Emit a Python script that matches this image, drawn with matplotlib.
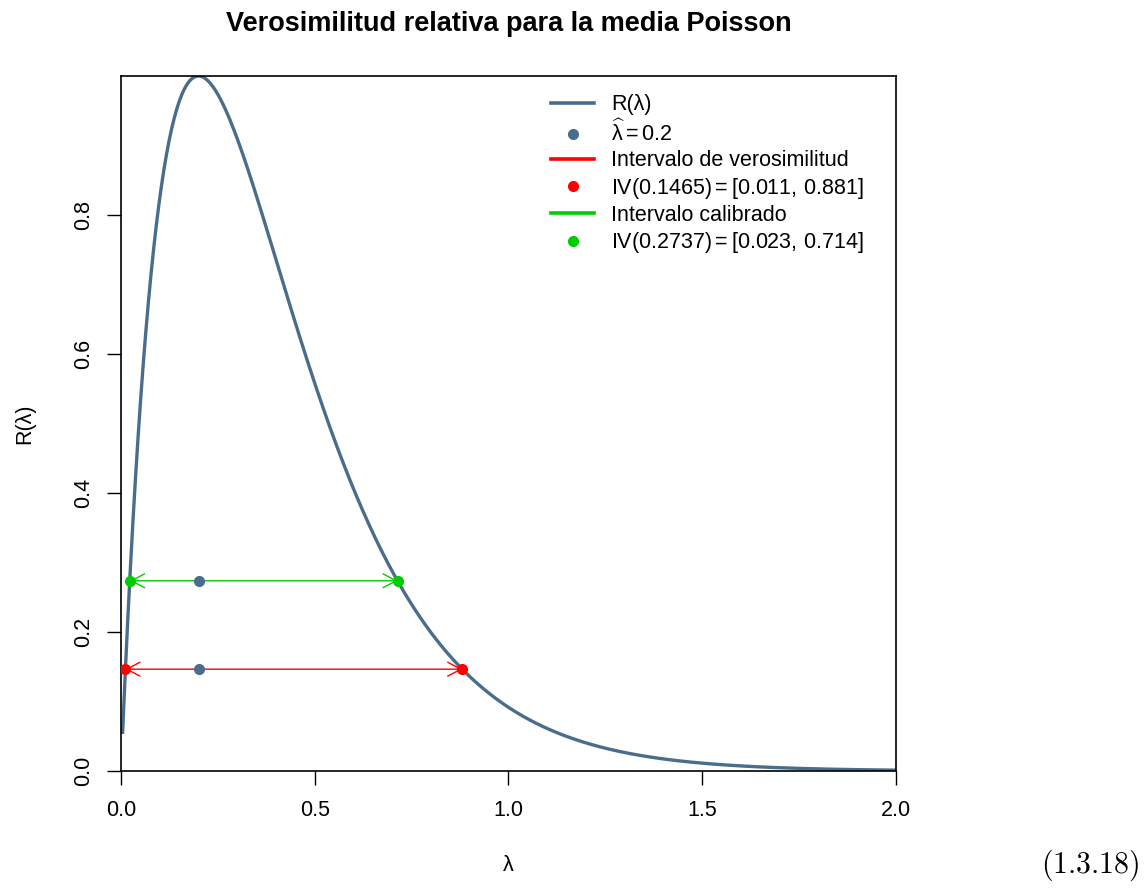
import numpy as np
import matplotlib.pyplot as plt
from matplotlib.lines import Line2D
from matplotlib.patches import FancyArrowPatch

plt.rcParams['font.family'] = ['Liberation Sans', 'DejaVu Sans']
plt.rcParams['mathtext.fontset'] = 'custom'
plt.rcParams['mathtext.rm'] = 'Liberation Sans'
plt.rcParams['mathtext.it'] = 'Liberation Sans:italic'
plt.rcParams['mathtext.bf'] = 'Liberation Sans:bold'

# Poisson sample summary
n = 5
lam_hat = 0.2

# cut levels and the resulting intervals
levels = [0.1465, 0.2737]
lower = [0.011, 0.023]
upper = [0.881, 0.714]
int_colors = ['#FF0000', '#00CD00']

curve_col = '#4A6D8C'

# relative likelihood R(lambda) = (lambda/lam_hat)^(n*lam_hat) * exp(-n*(lambda-lam_hat))
lam = np.linspace(0.004, 2, 600)
R = (lam / lam_hat) ** (n * lam_hat) * np.exp(-n * (lam - lam_hat))

fig = plt.figure(figsize=(11.44, 8.88), dpi=100)
ax = fig.add_axes([121/1144, 1 - 771/888, 775/1144, 695/888])

ax.plot(lam, R, color=curve_col, lw=2.4, solid_capstyle='butt')

for lev, lo, hi, col in zip(levels, lower, upper, int_colors):
    arr = FancyArrowPatch((lo, lev), (hi, lev),
                          arrowstyle='<->,head_length=0.95,head_width=0.5',
                          mutation_scale=10, color=col, lw=1.0,
                          shrinkA=0, shrinkB=0)
    ax.add_patch(arr)
    ax.plot([lo, hi], [lev, lev], 'o', color=col, ms=7, zorder=4)
    ax.plot([lam_hat], [lev], 'o', color=curve_col, ms=7, zorder=4)

ax.set_xlim(0, 2)
ax.set_ylim(0, 1)
ax.set_xticks([0, 0.5, 1.0, 1.5, 2.0])
ax.set_xticklabels(['0.0', '0.5', '1.0', '1.5', '2.0'])
ax.set_yticks([0, 0.2, 0.4, 0.6, 0.8])
ax.set_yticklabels(['0.0', '0.2', '0.4', '0.6', '0.8'], rotation=90, va='center')
ax.tick_params(axis='both', direction='out', length=10, width=1, labelsize=15.5)
ax.tick_params(axis='x', pad=11)
ax.tick_params(axis='y', pad=9)
for s in ax.spines.values():
    s.set_linewidth(1.2)

handles = [
    Line2D([], [], color=curve_col, lw=2.6),
    Line2D([], [], color=curve_col, marker='o', ls='none', ms=7),
    Line2D([], [], color='#FF0000', lw=2.6),
    Line2D([], [], color='#FF0000', marker='o', ls='none', ms=7),
    Line2D([], [], color='#00CD00', lw=2.6),
    Line2D([], [], color='#00CD00', marker='o', ls='none', ms=7),
]
labels = [
    'R(λ)',
    r'$\widehat{\mathrm{\lambda}} = 0.2$',
    'Intervalo de verosimilitud',
    r'IV$(%.4f) = [%.3f,\,%.3f]$' % (levels[0], lower[0], upper[0]),
    'Intervalo calibrado',
    r'IV$(%.4f) = [%.3f,\,%.3f]$' % (levels[1], lower[1], upper[1]),
]
ax.legend(handles, labels, loc='upper left', bbox_to_anchor=(0.555, 0.9735),
          frameon=False, fontsize=15.5, handlelength=2.0, handletextpad=0.8,
          labelspacing=0.2, borderpad=0, borderaxespad=0)

fig.text(508.5/1144, 1 - 24/888, 'Verosimilitud relativa para la media Poisson',
         ha='center', va='center', fontsize=19.5, fontweight='bold')
fig.text(508.5/1144, 1 - 865/888, 'λ', ha='center', va='center', fontsize=15.5)
fig.text(25/1144, 1 - 424/888, 'R(λ)', ha='center', va='center', rotation=90,
         fontsize=15.5)
fig.text(1140/1144, 1 - 865/888, r'$\mathrm{(1.3.18)}$', ha='right', va='center',
         fontsize=21.5, math_fontfamily='cm')

fig.savefig('out.png', dpi=100)
